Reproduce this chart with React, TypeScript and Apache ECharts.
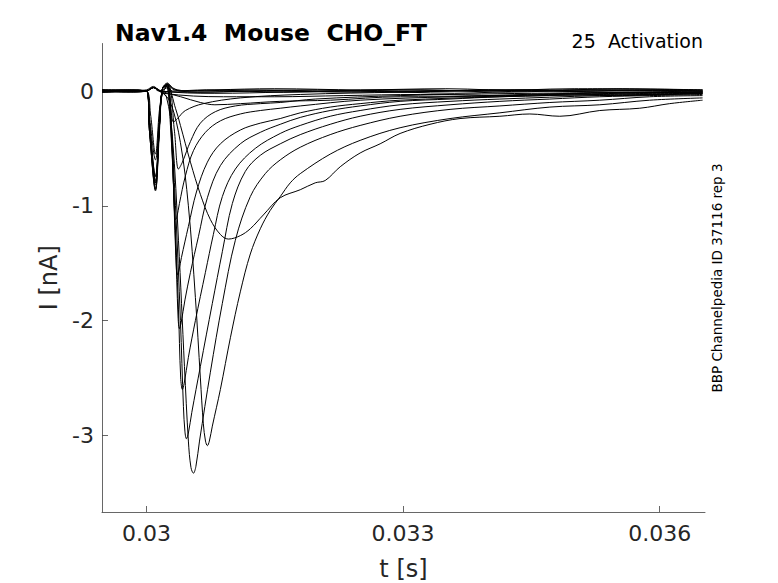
import React, { useEffect, useRef } from 'react';
import * as echarts from 'echarts';

// each sweep: [time in ms, current in nA]
const lowSweepA = [[29.48, 0.01], [29.75, -0.01], [30.0, 0.0], [30.082, 0.03], [30.14, 0.0], [30.6, -0.01], [31.2, 0.0], [32.0, 0.01], [33.0, -0.01], [34.0, 0.01], [35.0, 0.0], [36.0, 0.01], [36.5, 0.0]];
const lowSweepB = [[29.48, -0.01], [29.8, 0.0], [30.0, 0.01], [30.082, 0.04], [30.16, 0.0], [30.8, -0.02], [31.6, -0.01], [32.5, 0.0], [33.6, -0.02], [34.5, 0.0], [35.5, -0.01], [36.5, -0.01]];
const lowSweepC = [[29.48, 0.0], [30.0, 0.0], [30.082, 0.03], [30.2, -0.02], [30.9, -0.05], [31.5, -0.05], [32.3, -0.04], [33.2, -0.03], [34.2, -0.04], [35.2, -0.02], [36.0, -0.03], [36.5, -0.02]];
const lowSweepD = [[29.48, 0.0], [30.0, 0.0], [30.082, 0.03], [30.16, 0.0], [30.4, -0.05], [30.63, -0.1], [30.8, -0.12], [31.1, -0.11], [31.56, -0.09], [32.15, -0.08], [32.97, -0.05], [33.8, -0.05], [34.7, -0.03], [35.5, -0.04], [36.5, -0.02]];

const sweepB = [[29.48, 0.0], [29.9, 0.01], [30.0, 0.0], [30.082, 0.03], [30.16, 0.0], [30.245, 0.03], [30.339, -0.15], [30.397, -0.3], [30.514, -0.62], [30.63, -0.9], [30.747, -1.12], [30.864, -1.25], [30.957, -1.29], [31.097, -1.26], [31.214, -1.2], [31.366, -1.08], [31.564, -0.93], [31.798, -0.86], [31.973, -0.8], [32.089, -0.78], [32.265, -0.66], [32.498, -0.54], [32.732, -0.46], [32.965, -0.37], [33.315, -0.29], [33.666, -0.24], [34.132, -0.22], [34.482, -0.2], [34.832, -0.22], [35.3, -0.17], [35.767, -0.15], [36.117, -0.11], [36.502, -0.08]];
const sweepC = [[29.48, 0.0], [29.85, -0.01], [30.0, 0.0], [30.082, 0.03], [30.163, 0.0], [30.28, -0.1], [30.397, -0.45], [30.49, -1.0], [30.572, -1.8], [30.63, -2.5], [30.665, -2.9], [30.69, -3.05], [30.712, -3.09], [30.735, -3.05], [30.77, -2.92], [30.864, -2.6], [30.981, -2.15], [31.097, -1.75], [31.214, -1.42], [31.331, -1.2], [31.447, -1.04], [31.564, -0.92], [31.681, -0.8], [31.798, -0.72], [32.148, -0.55], [32.498, -0.43], [32.965, -0.32], [33.549, -0.24], [34.132, -0.19], [34.716, -0.14], [35.3, -0.12], [35.883, -0.08], [36.502, -0.06]];
const sweepD = [[29.48, 0.01], [29.9, 0.0], [30.0, 0.0], [30.082, 0.03], [30.163, 0.0], [30.233, -0.05], [30.303, -0.4], [30.374, -1.3], [30.444, -2.4], [30.49, -3.05], [30.52, -3.28], [30.549, -3.33], [30.578, -3.27], [30.62, -3.05], [30.747, -2.45], [30.887, -1.85], [31.039, -1.3], [31.214, -0.92], [31.389, -0.72], [31.564, -0.6], [31.798, -0.49], [32.148, -0.38], [32.498, -0.3], [32.965, -0.22], [33.549, -0.16], [34.132, -0.13], [34.716, -0.1], [35.3, -0.08], [35.883, -0.05], [36.502, -0.04]];
const sweepE = [[29.48, 0.0], [29.8, 0.01], [30.0, 0.0], [30.047, -0.2], [30.105, -0.55], [30.163, -0.1], [30.233, 0.04], [30.28, -0.2], [30.339, -1.0], [30.397, -2.0], [30.432, -2.75], [30.45, -2.97], [30.467, -3.03], [30.49, -2.98], [30.53, -2.8], [30.63, -2.4], [30.77, -1.85], [30.887, -1.4], [31.004, -0.98], [31.156, -0.7], [31.331, -0.56], [31.564, -0.46], [31.798, -0.38], [32.148, -0.29], [32.498, -0.22], [32.965, -0.16], [33.549, -0.12], [34.132, -0.09], [34.716, -0.07], [35.3, -0.05], [35.883, -0.04], [36.502, -0.03]];
const sweepF = [[29.48, -0.01], [29.85, 0.0], [30.0, 0.0], [30.035, -0.3], [30.105, -0.8], [30.152, -0.3], [30.187, 0.02], [30.233, 0.05], [30.28, -0.3], [30.327, -1.0], [30.374, -1.9], [30.4, -2.5], [30.42, -2.6], [30.44, -2.55], [30.49, -2.32], [30.572, -2.0], [30.689, -1.58], [30.782, -1.25], [30.887, -0.92], [31.039, -0.68], [31.272, -0.5], [31.564, -0.37], [31.798, -0.3], [32.148, -0.22], [32.498, -0.17], [32.965, -0.12], [33.549, -0.09], [34.132, -0.07], [35.3, -0.04], [36.502, -0.02]];
const sweepG = [[29.48, 0.0], [30.0, 0.0], [30.035, -0.35], [30.105, -0.85], [30.152, -0.3], [30.187, 0.02], [30.245, 0.06], [30.292, -0.4], [30.339, -1.3], [30.37, -1.98], [30.385, -2.07], [30.405, -2.02], [30.45, -1.82], [30.514, -1.58], [30.607, -1.27], [30.712, -0.93], [30.864, -0.65], [31.097, -0.46], [31.331, -0.36], [31.564, -0.29], [31.798, -0.23], [32.148, -0.17], [32.498, -0.13], [32.965, -0.09], [33.549, -0.07], [34.132, -0.05], [35.3, -0.03], [36.502, -0.02]];
const sweepH = [[29.48, 0.01], [30.0, 0.0], [30.035, -0.35], [30.105, -0.86], [30.152, -0.3], [30.187, 0.02], [30.245, 0.06], [30.292, -0.35], [30.327, -1.1], [30.35, -1.55], [30.362, -1.6], [30.38, -1.56], [30.409, -1.45], [30.49, -1.18], [30.584, -0.88], [30.712, -0.62], [30.864, -0.46], [31.097, -0.34], [31.331, -0.28], [31.564, -0.24], [31.798, -0.19], [32.148, -0.14], [32.498, -0.11], [32.965, -0.08], [34.132, -0.05], [35.3, -0.03], [36.502, -0.01]];
const sweepI = [[29.48, 0.0], [30.0, 0.0], [30.035, -0.3], [30.105, -0.8], [30.152, -0.3], [30.187, 0.02], [30.245, 0.06], [30.292, -0.3], [30.315, -0.8], [30.33, -1.08], [30.339, -1.12], [30.355, -1.1], [30.385, -0.98], [30.455, -0.74], [30.549, -0.52], [30.689, -0.36], [30.864, -0.26], [31.097, -0.2], [31.331, -0.17], [31.564, -0.15], [31.798, -0.13], [32.498, -0.08], [33.549, -0.05], [35.0, -0.02], [36.502, -0.01]];
const sweepJ = [[29.48, 0.0], [30.0, 0.0], [30.035, -0.3], [30.105, -0.78], [30.152, -0.3], [30.187, 0.02], [30.257, 0.05], [30.327, -0.35], [30.374, -0.68], [30.42, -0.62], [30.514, -0.44], [30.63, -0.28], [30.805, -0.18], [31.039, -0.13], [31.331, -0.11], [31.564, -0.1], [31.973, -0.07], [32.965, -0.04], [34.5, -0.02], [36.502, -0.01]];
const sweepK = [[29.48, -0.01], [30.0, 0.0], [30.035, -0.28], [30.105, -0.74], [30.152, -0.28], [30.187, 0.02], [30.245, 0.04], [30.28, -0.12], [30.315, -0.27], [30.362, -0.24], [30.455, -0.17], [30.665, -0.11], [31.097, -0.06], [31.798, -0.03], [32.965, -0.01], [34.5, 0.01], [36.502, 0.0]];

const highSweepA = [[29.48, 0.0], [30.0, 0.0], [30.035, -0.35], [30.105, -0.87], [30.152, -0.35], [30.187, 0.02], [30.245, 0.07], [30.303, 0.03], [30.397, 0.0], [30.8, 0.01], [31.5, 0.02], [32.5, 0.01], [33.5, 0.02], [34.5, 0.0], [35.5, 0.02], [36.502, 0.01]];
const highSweepB = [[29.48, 0.01], [30.0, 0.0], [30.035, -0.32], [30.105, -0.82], [30.152, -0.3], [30.187, 0.02], [30.245, 0.06], [30.315, 0.02], [30.5, 0.0], [31.2, 0.01], [32.2, 0.0], [33.2, 0.01], [34.2, -0.01], [35.2, 0.01], [36.502, 0.0]];
const highSweepC = [[29.48, 0.0], [30.0, 0.0], [30.035, -0.28], [30.105, -0.75], [30.152, -0.28], [30.187, 0.02], [30.245, 0.05], [30.327, 0.01], [30.6, -0.01], [31.4, 0.0], [32.4, -0.01], [33.4, 0.0], [34.4, 0.01], [35.4, -0.01], [36.502, 0.0]];
const highSweepD = [[29.48, -0.01], [30.0, 0.0], [30.035, -0.22], [30.105, -0.6], [30.152, -0.22], [30.187, 0.02], [30.233, 0.04], [30.303, 0.0], [30.7, 0.01], [31.6, -0.01], [32.8, 0.01], [33.9, 0.0], [35.0, 0.02], [36.502, 0.01]];

const sweeps = [
  lowSweepA, lowSweepB, lowSweepC, lowSweepD,
  sweepB, sweepC, sweepD, sweepE, sweepF, sweepG, sweepH, sweepI, sweepJ, sweepK,
  highSweepA, highSweepB, highSweepC, highSweepD,
];

const xTicks = [0.03, 0.033, 0.036];
const yTicks = [-3, -2, -1, 0];

const FONT = '"DejaVu Sans", sans-serif';

const App = () => {
  const chartRef = useRef(null);

  useEffect(() => {
    const myChart = echarts.init(chartRef.current, null, { renderer: 'svg' });

    const series = sweeps.map((pts, k) => ({
      name: 'sweep ' + (k + 1),
      type: 'line',
      data: pts.map(([t, i]) => [t / 1000, i]),
      showSymbol: false,
      smooth: 0.35,
      lineStyle: { color: '#000', width: 1 },
      silent: true,
    }));

    const option = {
      animation: false,
      backgroundColor: '#fff',
      grid: { left: 102, right: 73, top: 43.5, bottom: 71, outerBoundsMode: 'none' },
      xAxis: {
        type: 'value',
        min: 0.02948,
        max: 0.03653,
        name: 't [s]',
        nameLocation: 'middle',
        nameGap: 45,
        nameTextStyle: { fontFamily: FONT, fontSize: 24, color: '#262626' },
        axisLine: { show: true, onZero: false, lineStyle: { color: '#404040', width: 0.8 } },
        axisTick: { show: true, inside: true, length: 6, customValues: xTicks, lineStyle: { color: '#404040', width: 0.8 } },
        axisLabel: { customValues: xTicks, margin: 10, fontFamily: FONT, fontSize: 22, color: '#262626' },
        splitLine: { show: false },
      },
      yAxis: {
        type: 'value',
        min: -3.668,
        max: 0.414,
        name: 'I [nA]',
        nameLocation: 'middle',
        nameGap: 39,
        nameTextStyle: { fontFamily: FONT, fontSize: 24, color: '#262626' },
        axisLine: { show: true, onZero: false, lineStyle: { color: '#404040', width: 0.8 } },
        axisTick: { show: true, inside: true, length: 6, customValues: yTicks, lineStyle: { color: '#404040', width: 0.8 } },
        axisLabel: { customValues: yTicks, margin: 8, fontFamily: FONT, fontSize: 22, color: '#262626' },
        splitLine: { show: false },
      },
      graphic: [
        {
          type: 'text',
          left: 115,
          top: 21,
          style: { text: 'Nav1.4  Mouse  CHO_FT', font: 'bold 23.5px ' + FONT, fill: '#000' },
        },
        {
          type: 'text',
          right: 75,
          top: 31,
          style: { text: '25  Activation', font: '19px ' + FONT, fill: '#000' },
        },
        {
          type: 'text',
          x: 717,
          y: 278,
          rotation: Math.PI / 2,
          style: {
            text: 'BBP Channelpedia ID 37116 rep 3',
            font: '13.5px ' + FONT,
            fill: '#000',
            align: 'center',
            verticalAlign: 'middle',
          },
        },
      ],
      series,
    };

    myChart.setOption(option);

    return () => {
      myChart.dispose();
    };
  }, []);

  return (
    <div
      ref={chartRef}
      style={{ position: 'absolute', left: 0, top: 0, width: '778px', height: '583px' }}
    />
  );
};

export default App;
